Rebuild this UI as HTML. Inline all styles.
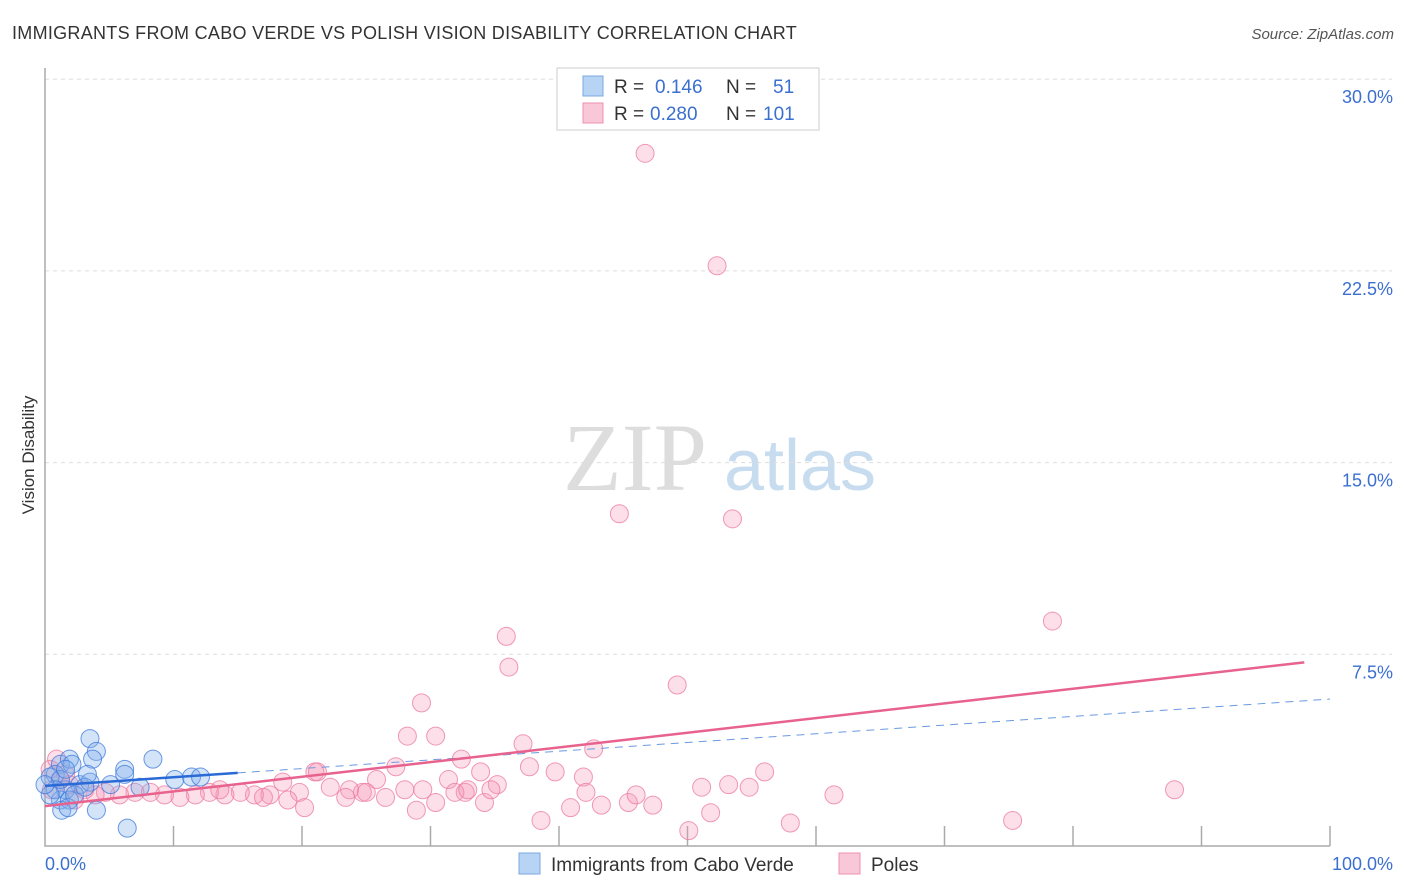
<!DOCTYPE html>
<html><head><meta charset="utf-8"><style>
body{margin:0;background:#fff;font-family:"Liberation Sans",sans-serif}
svg{display:block}
</style></head><body>
<svg id="chart" width="1406" height="892">
<text x="12" y="39" font-size="18" fill="#333" letter-spacing="0.3" textLength="785">IMMIGRANTS FROM CABO VERDE VS POLISH VISION DISABILITY CORRELATION CHART</text>
<text x="1394" y="39" font-size="15" fill="#555" font-style="italic" text-anchor="end">Source: ZipAtlas.com</text>
<text transform="translate(34,455) rotate(-90)" font-size="17" fill="#333" text-anchor="middle">Vision Disability</text>
<g><text x="635" y="490" font-size="96" fill="#ddd" font-family="Liberation Serif" text-anchor="middle">ZIP</text><text x="800" y="490" font-size="72" fill="#c8dcf0" text-anchor="middle">atlas</text></g>
<g id="grid"></g><g id="axes"></g><g id="marks"></g>
<g>
<rect x="557" y="68" width="262" height="62" fill="#fff" stroke="#ccc"/>
<rect x="583" y="76" width="20" height="20" fill="#b8d4f4" stroke="#7aa8e0"/>
<rect x="583" y="103" width="20" height="20" fill="#f9c8d8" stroke="#ee90b0"/>
<text y="93" font-size="19" fill="#333"><tspan x="614">R =</tspan><tspan x="655" fill="#3b6fd0">0.146</tspan><tspan x="726">N =</tspan><tspan x="773" fill="#3b6fd0">51</tspan></text>
<text y="120" font-size="19" fill="#333"><tspan x="614">R =</tspan><tspan x="650" fill="#3b6fd0">0.280</tspan><tspan x="726">N =</tspan><tspan x="763" fill="#3b6fd0">101</tspan></text>
</g>
<g>
<rect x="519" y="853" width="21" height="21" fill="#b8d4f4" stroke="#7aa8e0"/>
<text x="551" y="871" font-size="19" fill="#333">Immigrants from Cabo Verde</text>
<rect x="839" y="853" width="21" height="21" fill="#f9c8d8" stroke="#ee90b0"/>
<text x="871" y="871" font-size="19" fill="#333">Poles</text>
</g>
</svg>
<script>
const yTicks=[7.5,15,22.5,30];
const yTickLabels=["7.5%","15.0%","22.5%","30.0%"];
const xTickLabels=["0.0%","100.0%"];
const pinkX=[46.7,52.3,44.7,53.5,78.4,35.9,36.1,49.2,29.3,28.2,30.4,37.2,42.7,32.4,37.7,39.7,41.9,56.0,53.2,54.8,27.3,25.8,21.0,21.2,33.9,35.2,31.4,29.4,28.0,24.7,23.7,22.2,19.8,18.5,17.5,16.3,15.2,14.0,12.8,11.7,10.5,9.3,8.2,7.0,5.8,4.7,3.9,3.1,1.9,1.2,0.4,0.5,2.3,13.6,26.5,30.4,32.7,34.2,42.1,43.3,45.4,46.0,47.3,51.1,61.4,87.9,38.6,40.9,50.1,51.8,58.0,75.3,28.9,20.2,18.9,17.0,23.4,25.0,31.9,32.9,34.7,0.9,1.6];
const pinkY=[27.1,22.7,13.0,12.8,8.8,8.2,7.0,6.3,5.6,4.3,4.3,4.0,3.8,3.4,3.1,2.9,2.7,2.9,2.4,2.3,3.1,2.6,2.9,2.9,2.9,2.4,2.6,2.2,2.2,2.1,2.2,2.3,2.1,2.5,2.0,2.0,2.1,2.0,2.1,2.0,1.9,2.0,2.1,2.1,2.0,2.1,2.0,2.2,2.4,2.6,3.0,2.2,1.8,2.2,1.9,1.7,2.1,1.7,2.1,1.6,1.7,2.0,1.6,2.3,2.0,2.2,1.0,1.5,0.6,1.3,0.9,1.0,1.4,1.5,1.8,1.9,1.9,2.1,2.1,2.2,2.2,3.4,2.8];
const blueX=[3.5,4.0,3.7,8.4,6.2,6.2,1.2,1.9,2.1,0.8,0.4,2.7,3.5,1.6,1.2,1.9,1.3,1.8,4.0,6.4,10.1,11.4,12.1,1.2,0.8,2.3,3.1,0.4,5.1,7.4,1.6,3.3,0];
const blueY=[4.2,3.7,3.4,3.4,3.0,2.8,3.2,3.4,3.2,2.8,2.7,2.4,2.5,2.2,1.8,1.8,1.4,1.5,1.4,0.7,2.6,2.7,2.7,2.6,2.2,2.0,2.3,2.0,2.4,2.3,3.0,2.8,2.4];
const pinkTrend=[1.56,7.30];
const blueTrend=[2.35,5.75];
const blueSolidEnd=15;
const NS="http://www.w3.org/2000/svg";
const X=v=>45+v*12.85, Y=v=>846-v*25.56;
function mk(tag,attrs,parent){const e=document.createElementNS(NS,tag);for(const k in attrs)e.setAttribute(k,attrs[k]);parent.appendChild(e);return e;}
const grid=document.getElementById('grid'),axes=document.getElementById('axes'),marks=document.getElementById('marks');
yTicks.forEach((t,i)=>{
 const l=mk('line',{x1:45,x2:1392,y1:Y(t),y2:Y(t),stroke:'#ddd','stroke-dasharray':'4,4'},grid);
 
 
 const tx=mk('text',{x:1393,y:Y(t)+24,'font-size':18,fill:'#3b6fd0','text-anchor':'end'},axes);
 tx.textContent=yTickLabels[i];
 
 
});
const ax=mk('path',{d:'M45,68 V846 H1330',fill:'none',stroke:'#aaa','stroke-width':1.5},axes);


for(let i=1;i<=10;i++){
 const t=mk('line',{x1:X(i*10),x2:X(i*10),y1:826,y2:846,stroke:'#aaa','stroke-width':1.5},axes);
 
 
}
[[0,'start',45],[100,'end',1393]].forEach((d,i)=>{
 const tx=mk('text',{x:d[2],y:870,'font-size':18,fill:'#3b6fd0','text-anchor':d[1]},axes);
 tx.textContent=xTickLabels[i];
 
 
});
pinkX.forEach((x,i)=>{
 const c=mk('circle',{cx:X(x),cy:Y(pinkY[i]),r:9,fill:'rgba(244,150,180,0.3)',stroke:'rgba(236,120,160,0.75)','stroke-width':1},marks);
 
 
});
blueX.forEach((x,i)=>{
 const c=mk('circle',{cx:X(x),cy:Y(blueY[i]),r:9,fill:'rgba(130,175,235,0.35)',stroke:'rgba(60,120,220,0.75)','stroke-width':1},marks);
 
 
});
const bt=v=>blueTrend[0]+(blueTrend[1]-blueTrend[0])*v/100;
const pt=v=>pinkTrend[0]+(pinkTrend[1]-pinkTrend[0])*v/100;
let l=mk('line',{x1:X(blueSolidEnd),y1:Y(bt(blueSolidEnd)),x2:X(100),y2:Y(bt(100)),stroke:'#6a9ae0','stroke-width':1,'stroke-dasharray':'8,6'},marks);


l=mk('line',{x1:X(0),y1:Y(pt(0)),x2:X(98),y2:Y(pt(98)),stroke:'#e8628e','stroke-width':2.5},marks);


l=mk('line',{x1:X(0),y1:Y(bt(0)),x2:X(blueSolidEnd),y2:Y(bt(blueSolidEnd)),stroke:'#2a6ad6','stroke-width':2.5},marks);


</script>
</body></html>
